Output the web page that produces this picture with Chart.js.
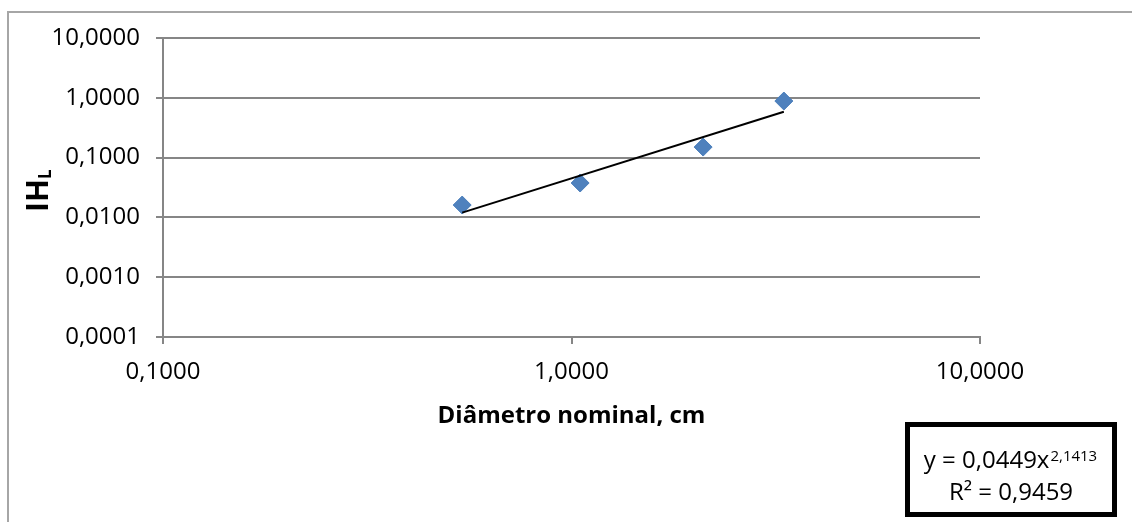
<!DOCTYPE html>
<html>
<head>
<meta charset="utf-8">
<script src="https://cdn.jsdelivr.net/npm/chart.js@4/dist/chart.umd.min.js"></script>
<style>
body { margin: 0; background: #fff; }
#wrap { position: relative; width: 1132px; height: 522px; overflow: hidden; }
canvas { position: absolute; left: 0; top: 0; }
</style>
</head>
<body>
<div id="wrap">
  <canvas id="grafico" width="1132" height="522"></canvas>
</div>
<script>
// valores
var diametros = [0.54, 1.05, 2.10, 3.31];
var ihl = [0.0161, 0.0376, 0.150, 0.883];
var tendX = [0.54, 3.31];
var tendY = [0.0120, 0.583];
var xTicks = [0.1, 1, 10];
var yTicks = [0.0001, 0.001, 0.01, 0.1, 1, 10];
var eqTexto = 'y = 0,0449x';
var eqExpoente = '2,1413';
var r2Texto = 'R² = 0,9459';

var fonte = '"Open Sans", sans-serif';

function fmt(v) { return Number(v).toFixed(4).replace('.', ','); }

var pontos = diametros.map(function(d, i) { return {x: d, y: ihl[i]}; });
var tendencia = tendX.map(function(d, i) { return {x: d, y: tendY[i]}; });

var extras = {
  id: 'extras',
  beforeDraw: function(chart) {
    var ctx = chart.ctx;
    ctx.save();
    // moldura externa
    ctx.strokeStyle = '#a6a6a6';
    ctx.lineWidth = 2;
    ctx.beginPath();
    ctx.moveTo(8, 530);
    ctx.lineTo(8, 12);
    ctx.lineTo(1140, 12);
    ctx.stroke();
    ctx.restore();
  },
  afterDraw: function(chart) {
    var ctx = chart.ctx;
    var area = chart.chartArea;
    ctx.save();
    ctx.fillStyle = '#000';
    ctx.textBaseline = 'alphabetic';

    // titulo do eixo x
    ctx.font = 'bold 24px ' + fonte;
    ctx.textAlign = 'center';
    ctx.fillText('Diâmetro nominal, cm', (area.left + area.right) / 2, 423);

    // caixa da equacao
    ctx.strokeStyle = '#000';
    ctx.lineWidth = 5;
    ctx.fillStyle = '#fff';
    ctx.fillRect(907.5, 424.5, 207, 90);
    ctx.strokeRect(907.5, 424.5, 207, 90);
    ctx.fillStyle = '#000';
    ctx.textAlign = 'left';
    ctx.font = '24px ' + fonte;
    var w1 = ctx.measureText(eqTexto).width;
    ctx.font = '15px ' + fonte;
    var w2 = ctx.measureText(eqExpoente).width;
    var x0 = 1010 - (w1 + w2) / 2;
    ctx.font = '24px ' + fonte;
    ctx.fillText(eqTexto, x0, 468);
    ctx.font = '15px ' + fonte;
    ctx.fillText(eqExpoente, x0 + w1 + 1, 461);
    ctx.font = '24px ' + fonte;
    ctx.textAlign = 'center';
    ctx.fillText(r2Texto, 1011, 500);

    // titulo do eixo y: IH com L subscrito
    ctx.translate(48, 212);
    ctx.rotate(-Math.PI / 2);
    ctx.textAlign = 'left';
    ctx.font = 'bold 30px ' + fonte;
    var wi = ctx.measureText('IH').width;
    ctx.fillText('IH', 0, 0);
    ctx.font = 'bold 17px ' + fonte;
    ctx.fillText('L', wi, 3);
    ctx.restore();
  }
};

var ctx = document.getElementById('grafico').getContext('2d');
var grafico = new Chart(ctx, {
  type: 'scatter',
  data: {
    datasets: [{
      label: 'Tendência',
      data: tendencia,
      showLine: true,
      borderColor: '#000',
      borderWidth: 2,
      pointRadius: 0,
      order: 0
    }, {
      label: 'IHL',
      data: pontos,
      pointStyle: 'rectRot',
      pointRadius: 9,
      pointHoverRadius: 9,
      backgroundColor: '#4F81BD',
      borderColor: '#4A7EBB',
      borderWidth: 1,
      order: 1
    }]
  },
  options: {
    responsive: false,
    animation: false,
    layout: { padding: { left: 0, top: 38, right: 152, bottom: 0 } },
    plugins: {
      legend: { display: false },
      tooltip: { enabled: false }
    },
    scales: {
      x: {
        type: 'logarithmic',
        min: 0.1,
        max: 10,
        afterBuildTicks: function(scale) { scale.ticks = xTicks.map(function(v) { return {value: v}; }); },
        afterFit: function(scale) { scale.height = 185; },
        grid: { drawOnChartArea: false, color: '#868686', lineWidth: 2, tickLength: 7 },
        border: { color: '#868686', width: 2 },
        ticks: {
          color: '#000',
          font: { family: 'Open Sans', size: 24 },
          padding: 14,
          maxRotation: 0,
          callback: function(v) { return fmt(v); }
        }
      },
      y: {
        type: 'logarithmic',
        min: 0.0001,
        max: 10,
        afterBuildTicks: function(scale) { scale.ticks = yTicks.map(function(v) { return {value: v}; }); },
        afterFit: function(scale) { scale.width = 163; },
        grid: { color: '#868686', lineWidth: 2, tickLength: 7 },
        border: { color: '#868686', width: 2 },
        ticks: {
          color: '#000',
          font: { family: 'Open Sans', size: 24 },
          padding: 16,
          callback: function(v) { return fmt(v); }
        }
      }
    }
  },
  plugins: [extras]
});
</script>
</body>
</html>
